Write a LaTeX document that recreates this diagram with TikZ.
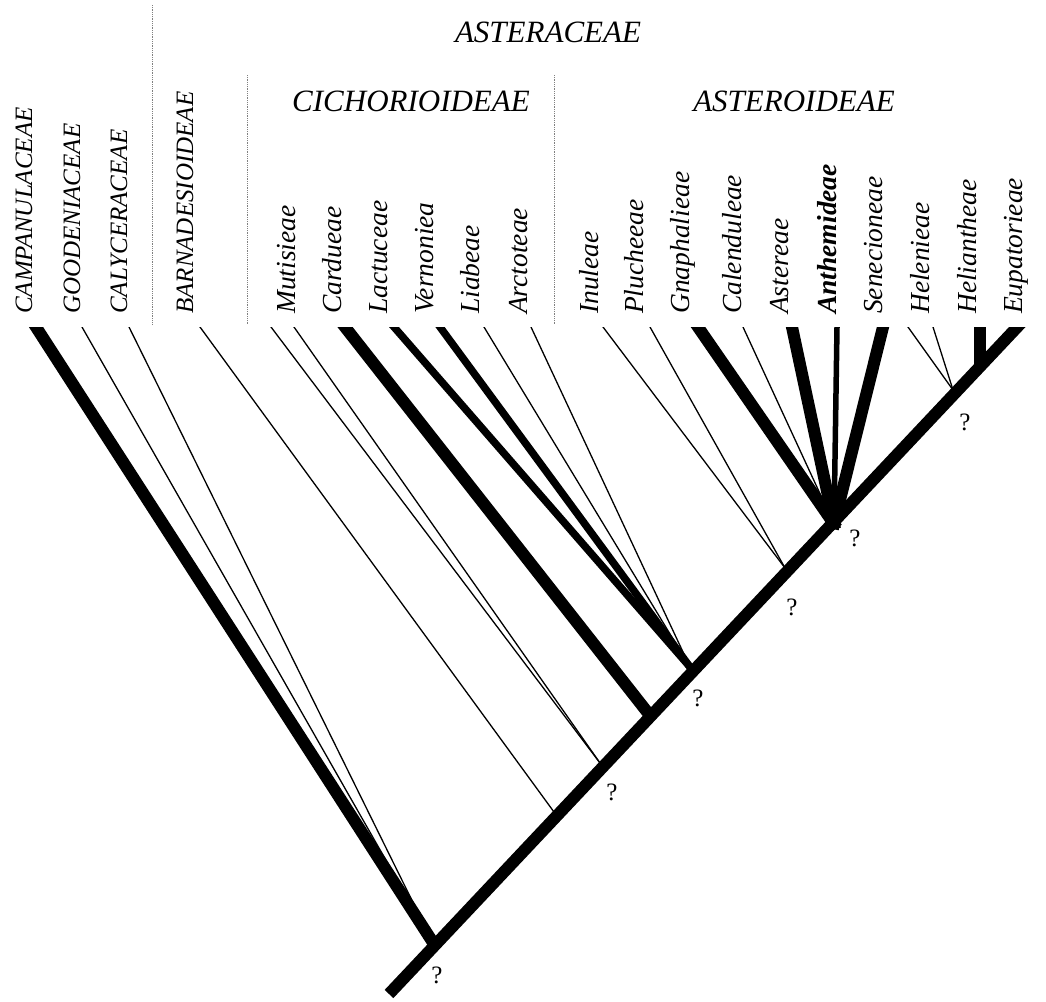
\documentclass[tikz,border=0pt]{standalone}
\usepackage{fontspec}
\setmainfont{Liberation Serif}
\usetikzlibrary{calc}
\begin{document}
\begin{tikzpicture}[x=1pt,y=-1pt,
  capl/.style={rotate=90,inner sep=0pt,anchor=base west,font=\fontsize{25}{25}\selectfont\itshape},
  lowl/.style={rotate=90,inner sep=0pt,anchor=base west,font=\fontsize{27.5}{27.5}\selectfont\itshape},
  hdr/.style={inner sep=0pt,anchor=base,font=\fontsize{31}{31}\selectfont\itshape},
  qm/.style={inner sep=0pt,font=\fontsize{25}{25}\selectfont},
  sep/.style={gray,densely dotted,line width=0.8pt},
  thinbr/.style={line width=1.3pt},
  medbr/.style={line width=5.5pt},
  midbr/.style={line width=7.5pt},
  thickbr/.style={line width=12pt},
  bbone/.style={line width=12pt}]
\useasboundingbox (0,0) rectangle (1046,1001);

% headers
\node[hdr] (hAsteraceae) at (548,42) {ASTERACEAE};
\node[hdr] (hCich) at (411,111) {CICHORIOIDEAE};
\node[hdr] (hAsteroid) at (794,111) {ASTEROIDEAE};

% separators
\coordinate (s1a) at (152,5);   \coordinate (s1b) at (152,325);
\coordinate (s2a) at (247,75);  \coordinate (s2b) at (247,325);
\coordinate (s3a) at (554,75);  \coordinate (s3b) at (554,325);
\draw[sep] (s1a) -- (s1b);
\draw[sep] (s2a) -- (s2b);
\draw[sep] (s3a) -- (s3b);

% labels
\node[capl] (lCamp) at (32,314) {CAMPANULACEAE};
\node[capl] (lGood) at (80,314) {GOODENIACEAE};
\node[capl] (lCaly) at (127,314) {CALYCERACEAE};
\node[capl] (lBarn) at (193,314) {BARNADESIOIDEAE};
\node[lowl] (lMut) at (295,314) {Mutisieae};
\node[lowl] (lCard) at (341,314) {Cardueae};
\node[lowl] (lLact) at (387,314) {Lactuceae};
\node[lowl] (lVern) at (433,314) {Vernoniea};
\node[lowl] (lLiab) at (479,314) {Liabeae};
\node[lowl] (lArct) at (527,314) {Arctoteae};
\node[lowl] (lInul) at (598,314) {Inuleae};
\node[lowl] (lPluc) at (643,314) {Plucheeae};
\node[lowl] (lGnap) at (689,314) {Gnaphalieae};
\node[lowl] (lCale) at (741,314) {Calenduleae};
\node[lowl] (lAste) at (788,314) {Astereae};
\node[lowl,font=\fontsize{27.5}{27.5}\selectfont\itshape\bfseries] (lAnth) at (836,314) {Anthemideae};
\node[lowl] (lSene) at (882,314) {Senecioneae};
\node[lowl] (lHele) at (929,314) {Helenieae};
\node[lowl] (lHeli) at (976,314) {Heliantheae};
\node[lowl] (lEupa) at (1022,314) {Eupatorieae};

% junctions on the backbone
\coordinate (bb0) at (389,994);
\coordinate (bb1) at (1022,322);
\coordinate (root) at (432,941);
\coordinate (nB) at (554,812);
\coordinate (nM) at (600,763);
\coordinate (nC) at (648,713);
\coordinate (nL) at (690,667);
\coordinate (nI) at (785,568);
\coordinate (nA) at (834,524);
\coordinate (nH) at (953,390);
\coordinate (nT) at (980,362);

% branch tops
\coordinate (tCamp) at (36,327);
\coordinate (tGood) at (82,327);
\coordinate (tCaly) at (129,327);
\coordinate (tBarn) at (200,327);
\coordinate (tX) at (271,327);
\coordinate (tMut) at (294,327);
\coordinate (tCard) at (345,327);
\coordinate (tLact) at (394,327);
\coordinate (tVern) at (440,327);
\coordinate (tLiab) at (484,327);
\coordinate (tArct) at (531,327);
\coordinate (tInul) at (603,327);
\coordinate (tPluc) at (650,327);
\coordinate (tGnap) at (698,327);
\coordinate (tCale) at (743,327);
\coordinate (tAste) at (792,327);
\coordinate (tAnth) at (837,327);
\coordinate (tSene) at (883,327);
\coordinate (tHele) at (908,327);
\coordinate (tHelX) at (933,327);
\coordinate (tHeli) at (980,327);

\begin{scope}
\clip (0,327) rectangle (1046,1001);
\foreach \t/\j/\s in {tCamp/root/thickbr, tGood/root/thinbr, tCaly/root/thinbr,
  tBarn/nB/thinbr, tX/nM/thinbr, tMut/nM/thinbr, tCard/nC/thickbr,
  tLact/nL/midbr, tVern/nL/midbr, tLiab/nL/thinbr, tArct/nL/thinbr,
  tInul/nI/thinbr, tPluc/nI/thinbr,
  tGnap/nA/thickbr, tCale/nA/thinbr, tAste/nA/thickbr, tAnth/nA/medbr, tSene/nA/thickbr,
  tHele/nH/thinbr, tHelX/nH/thinbr, tHeli/nT/thickbr}
  \draw[\s] ($(\t)!-12pt!(\j)$) -- ($(\j)!-5pt!(\t)$);
\draw[bbone] (bb0) -- (bb1);
\end{scope}

% question marks
\node[qm] (q1) at (437,975) {?};
\node[qm] (q2) at (612,792) {?};
\node[qm] (q3) at (698,698) {?};
\node[qm] (q4) at (792,607) {?};
\node[qm] (q5) at (855,538) {?};
\node[qm] (q6) at (965,422) {?};
\end{tikzpicture}
\end{document}
